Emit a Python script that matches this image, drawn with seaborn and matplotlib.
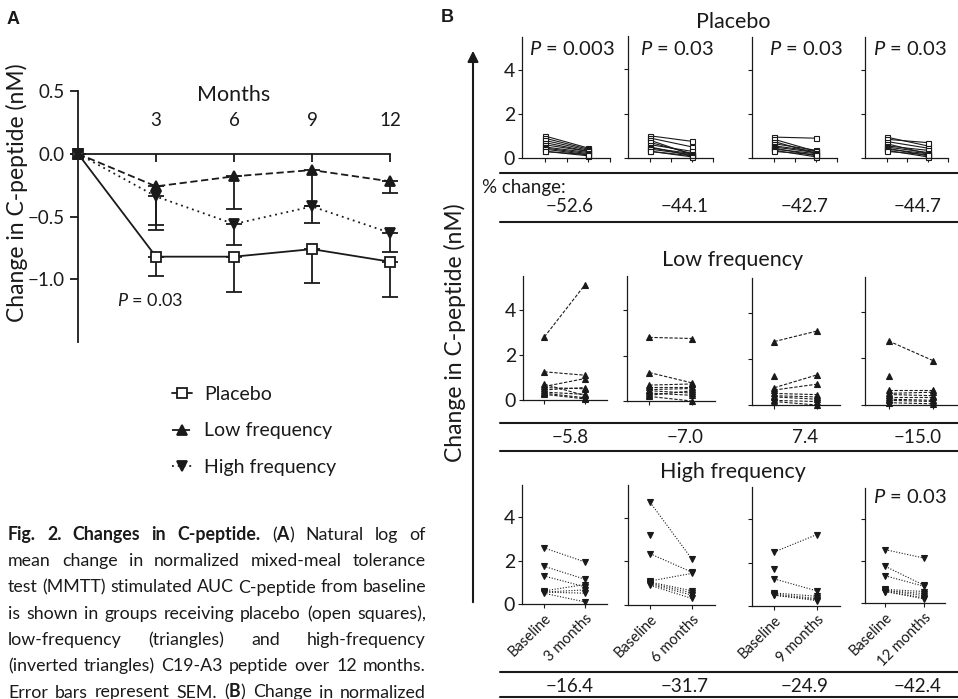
import numpy as np
import pandas as pd
import matplotlib.pyplot as plt
from matplotlib.lines import Line2D
from matplotlib.patches import FancyArrowPatch
import seaborn as sns

sns.set_theme(style='ticks')
plt.rcParams['font.family'] = ['Lato', 'DejaVu Sans']
plt.rcParams['mathtext.fontset'] = 'custom'
plt.rcParams['mathtext.rm'] = 'Lato'
plt.rcParams['mathtext.it'] = 'Lato:italic'
plt.rcParams['mathtext.bf'] = 'Lato:bold'
plt.rcParams.update({'axes.edgecolor': 'k', 'text.color': 'k', 'xtick.color': 'k',
                     'ytick.color': 'k', 'axes.labelcolor': 'k'})

W, H = 958, 699

# ---------------- panel A data (mean change, SEM)
months = [0, 3, 6, 9, 12]
month_ticks = [3, 6, 9, 12]
groups = ['Placebo', 'Low frequency', 'High frequency']
placebo_mean = [0, -0.82, -0.82, -0.76, -0.86]
placebo_sem = [0, 0.155, 0.28, 0.27, 0.28]
low_mean = [0, -0.26, -0.18, -0.13, -0.22]
low_sem = [0, 0.35, 0.26, 0.29, 0.09]
high_mean = [0, -0.34, -0.56, -0.42, -0.63]
high_sem = [0, 0.23, 0.17, 0.13, 0.15]

# ---------------- panel B data (per subject: baseline / follow-up)
followups = ['3 months', '6 months', '9 months', '12 months']
placebo_base = [[1.0, 0.9, 0.8, 0.7, 0.6, 0.5, 0.45, 0.4, 0.3, 0.3],
                [1.0, 0.9, 0.8, 0.7, 0.6, 0.5, 0.45, 0.4, 0.3, 0.3],
                [0.95, 0.85, 0.75, 0.65, 0.55, 0.5, 0.45, 0.4, 0.35, 0.3],
                [0.95, 0.85, 0.75, 0.65, 0.55, 0.5, 0.45, 0.4, 0.35, 0.3]]
placebo_post = [[0.45, 0.4, 0.35, 0.3, 0.3, 0.25, 0.2, 0.15, 0.1, 0.15],
                [0.75, 0.5, 0.15, 0.2, 0.3, 0.1, 0.2, 0.15, 0.1, 0.05],
                [0.9, 0.3, 0.2, 0.35, 0.3, 0.25, 0.1, 0.2, 0.05, 0.15],
                [0.55, 0.7, 0.45, 0.2, 0.35, 0.25, 0.1, 0.2, 0.05, 0.15]]
low_base = [[2.8, 1.25, 0.7, 0.6, 0.55, 0.45, 0.35, 0.3, 0.25],
            [2.8, 1.25, 0.7, 0.6, 0.5, 0.45, 0.35, 0.25, 0.2],
            [2.75, 1.25, 0.75, 0.65, 0.5, 0.4, 0.35, 0.2, 0.15],
            [2.75, 1.25, 0.65, 0.5, 0.45, 0.35, 0.25, 0.2, 0.1]]
low_post = [[5.1, 1.1, 0.2, 0.95, 0.5, 0.55, 0.25, 0.1, 0.05],
            [2.75, 0.8, 0.75, 0.6, 0.55, 0.35, 0.25, 0.45, 0.0],
            [3.2, np.nan, 1.3, 0.9, 0.45, 0.35, 0.25, 0.15, 0.0],
            [1.9, np.nan, 0.65, 0.55, 0.4, 0.35, 0.2, 0.15, 0.05]]
high_base = [[2.6, 1.75, 1.3, 0.6, 0.55, 0.55, 0.5],
             [4.7, 3.2, 2.35, 1.1, 1.05, 1.0, 0.95, 0.9],
             [2.5, 1.7, 1.25, 0.6, 0.55, 0.5, 0.5],
             [2.55, 1.75, 1.3, 0.65, 0.6, 0.6, 0.55, 0.55]]
high_post = [[1.95, 1.15, 0.8, 0.9, 0.65, 0.5, 0.1],
             [2.1, np.nan, 1.5, 1.45, 0.65, 0.55, 0.45, 0.3],
             [3.3, np.nan, 0.7, 0.45, 0.35, 0.3, 0.25],
             [2.15, 0.85, 0.8, 0.55, 0.45, 0.35, 0.25, 0.2]]
pct_placebo = ['\u221252.6', '\u221244.1', '\u221242.7', '\u221244.7']
pct_low = ['\u22125.8', '\u22127.0', '7.4', '\u221215.0']
pct_high = ['\u221216.4', '\u221231.7', '\u221224.9', '\u221242.4']
p_placebo = ['0.003', '0.03', '0.03', '0.03']
p_high = [None, None, None, '0.03']

caption_lines = [
    "*Fig. *2.  *Changes *in *C-peptide. ($\\mathbf{A}$) Natural log of",
    "mean change in normalized mixed-meal tolerance",
    "test (MMTT) stimulated AUC C-peptide from baseline",
    "is shown in groups receiving placebo (open squares),",
    "low-frequency (triangles) and high-frequency",
    "(inverted triangles) C19-A3 peptide over 12 months.",
    "Error bars represent SEM. ($\\mathbf{B}$) Change in normalized",
]


def fpos(x, y):
    return (x / W, 1 - y / H)


def box(l, t, r, b):
    return [l / W, 1 - b / H, (r - l) / W, (b - t) / H]


fig = plt.figure(figsize=(W / 100, H / 100), dpi=100)

# ================= panel A
axA = fig.add_axes(box(78, 91, 390, 342))
styles = [('-', 's', 'white'), ((0, (4, 2)), '^', 'k'), ((0, (1, 2.2)), 'v', 'k')]
for mean, sem, (ls, mk, fc) in zip([placebo_mean, low_mean, high_mean],
                                   [placebo_sem, low_sem, high_sem], styles):
    axA.errorbar(months, mean, yerr=[sem, [0] * len(sem)], fmt='none', ecolor='k',
                 elinewidth=1.3, capsize=5.5, capthick=1.3, zorder=2, clip_on=False)
    sns.lineplot(x=months, y=mean, color='k', linestyle=ls, lw=1.3, marker=mk, ms=7.5,
                 mfc=fc, mec='k', mew=1.3, errorbar=None, ax=axA, zorder=3, clip_on=False)

axA.set_xlim(0, 12)
axA.set_ylim(-1.5, 0.5)
axA.set_xticks(month_ticks)
axA.set_yticks([-1.0, -0.5, 0.0, 0.5])
axA.spines['bottom'].set_visible(False)
axA.spines['right'].set_visible(False)
axA.spines['top'].set_position(('data', 0))
for s in ['top', 'left']:
    axA.spines[s].set_linewidth(1.3)
axA.xaxis.set_ticks_position('top')
axA.xaxis.set_label_position('top')
axA.tick_params(axis='x', direction='in', length=6, width=1.3, pad=18, labelsize=13.5)
axA.tick_params(axis='y', direction='out', length=6, width=1.3, labelsize=13.5)
axA.set_xlabel('Months', fontsize=15.5, labelpad=8)
axA.set_ylabel('')
axA.text(2.77, -1.17, r'$\mathit{P}$ = 0.03', ha='center', va='center', fontsize=13)
fig.text(*fpos(17, 193), 'Change in C-peptide (nM)', rotation=90, ha='center',
         va='center', fontsize=16.5)
fig.text(*fpos(13, 20), 'A', fontsize=13, fontweight='bold', family='Liberation Sans',
         ha='center', va='center')

handles = [Line2D([], [], color='k', linestyle=ls, lw=1.3, marker=mk, ms=7, mfc=fc,
                  mec='k', mew=1.3) for ls, mk, fc in styles]
axA.legend(handles, groups, loc='upper left', bbox_to_anchor=fpos(172, 386),
           bbox_transform=fig.transFigure, frameon=False, fontsize=14, handlelength=1.05,
           handletextpad=0.6, labelspacing=1.0, borderpad=0, borderaxespad=0, numpoints=1)

# ================= panel B
boxes = [
    [(522, 37, 610, 158), (628, 36, 713, 158), (752, 37, 837, 158), (865, 37, 948, 158)],
    [(523, 276, 607, 400), (627, 276, 715, 401), (752, 278, 840, 405), (865, 277, 958, 405)],
    [(522, 485, 607, 604), (628, 485, 715, 605), (752, 487, 840, 606), (865, 488, 945, 603)],
]
rows = [
    ('Placebo', placebo_base, placebo_post, '-', 's', 'white', 3.6, 22, pct_placebo, 207, (173, 222), p_placebo, 49),
    ('Low frequency', low_base, low_post, (0, (3, 1.5)), '^', 'k', 4.2, 260, pct_low, 437, (423, 451), [None] * 4, 0),
    ('High frequency', high_base, high_post, (0, (1, 1.5)), 'v', 'k', 4.2, 472, pct_high, 686, (672, 697), p_high, 497),
]
p_x = [572, 677, 806, 910]
pct_x = [570, 685, 805, 918]

for i, (title, base, post, ls, mk, fc, ms, ty, pct, py, hl, pvals, pv_y) in enumerate(rows):
    fig.text(*fpos(733, ty), title, ha='center', va='center', fontsize=15.5)
    for j in range(4):
        ax = fig.add_axes(box(*boxes[i][j]))
        n = len(base[j])
        df = pd.DataFrame({'subject': list(range(n)) * 2,
                           'time': [0] * n + [1] * n,
                           'value': list(base[j]) + list(post[j])})
        sns.lineplot(data=df, x='time', y='value', units='subject', estimator=None,
                     color='k', linestyle=ls, lw=0.8, marker=mk, ms=ms, mfc=fc, mec='k',
                     mew=0.8, ax=ax, legend=False, clip_on=False)
        ax.set_ylim(0, 5.5)
        ax.set_yticks([0, 2, 4])
        if i == 0:
            ax.set_xlim(-0.53, 1.5)
            ax.set_xticks([0, 0.5, 1, 1.5])
        else:
            ax.set_xlim(-0.53, 1.55)
            ax.set_xticks([0, 1])
        sns.despine(ax=ax)
        for s in ['left', 'bottom']:
            ax.spines[s].set_linewidth(0.9)
        ax.tick_params(direction='out', length=3, width=0.8, labelsize=14, pad=2)
        ax.set_xlabel('')
        ax.set_ylabel('')
        if j > 0:
            ax.tick_params(labelleft=False)
        if i == 2:
            ax.set_xticks([0, 1])
            ax.set_xticklabels(['Baseline', followups[j]], rotation=45, ha='right',
                               rotation_mode='anchor', fontsize=10.5)
        else:
            ax.tick_params(labelbottom=False)
        if pvals[j] is not None:
            fig.text(*fpos(p_x[j], pv_y), r'$\mathit{P}$ = ' + pvals[j], ha='center',
                     va='center', fontsize=14.5)
        fig.text(*fpos(pct_x[j], py), pct[j], ha='center', va='center', fontsize=13.5)
    for yl in hl:
        fig.add_artist(Line2D([500 / W, 1], [1 - yl / H] * 2, color='k', lw=1.5,
                              transform=fig.transFigure))

fig.text(*fpos(482, 188), '% change:', ha='left', va='center', fontsize=13.5)
fig.text(*fpos(447, 18), 'B', fontsize=13, fontweight='bold', family='Liberation Sans',
         ha='center', va='center')
fig.add_artist(FancyArrowPatch(fpos(473, 605), fpos(473, 48), transform=fig.transFigure,
                               arrowstyle='-|>', mutation_scale=16, lw=1.5, color='k'))
fig.text(*fpos(455, 333), 'Change in C-peptide (nM)', rotation=90, ha='center',
         va='center', fontsize=16.5)

# ================= caption, justified
renderer = fig.canvas.get_renderer()
baselines = [540, 566.3, 592.5, 618.8, 645, 671.3, 697.5]
for line, yb in zip(caption_lines, baselines):
    objs = []
    for w in line.split():
        bold = w.startswith('*')
        objs.append(fig.text(0, 0, w.lstrip('*'), fontsize=12.8, va='baseline', ha='left',
                             fontweight='bold' if bold else 'normal'))
    widths = [t.get_window_extent(renderer).width for t in objs]
    gap = (426 - 8 - sum(widths)) / (len(objs) - 1)
    x = 8
    for t, w in zip(objs, widths):
        t.set_position(fpos(x, yb))
        x += w + gap

fig.savefig('out.png', dpi=100)
